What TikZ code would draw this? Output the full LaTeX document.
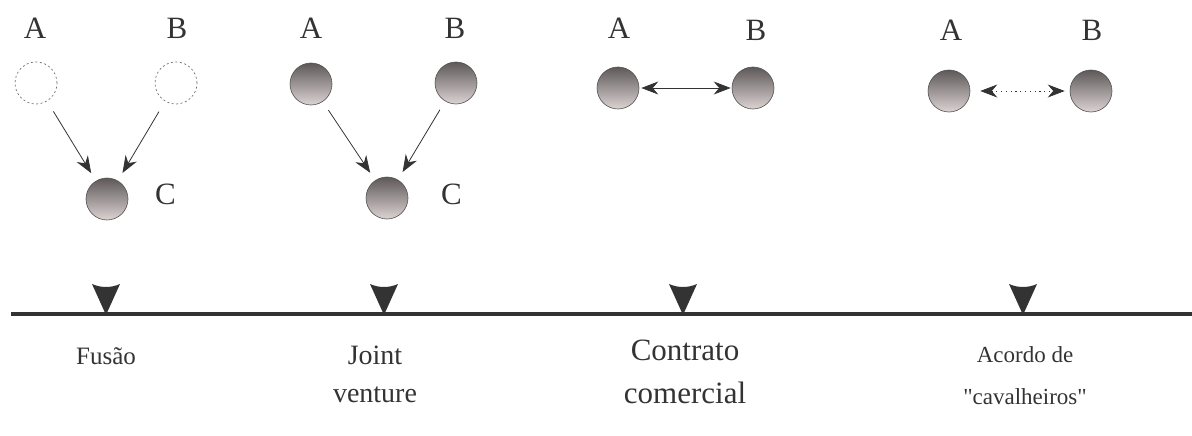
\documentclass[tikz,border=0pt]{standalone}
\usepackage{fontspec}
\setmainfont{Liberation Serif}
\usetikzlibrary{arrows.meta}
\definecolor{ink}{HTML}{333333}
\definecolor{balltop}{HTML}{5E5858}
\definecolor{ballmid}{HTML}{948C8C}
\definecolor{ballbot}{HTML}{DCD3D3}
\tikzset{
  ball/.style={circle, draw=ink!85, line width=0.6pt, minimum size=42pt, inner sep=0pt,
    top color=balltop, middle color=ballmid, bottom color=ballbot, shading angle=0},
  ghost/.style={circle, draw=ink!70, line width=0.7pt, dash pattern=on 2pt off 2.5pt, minimum size=42pt, inner sep=0pt},
  letter/.style={font=\fontsize{31}{33}\selectfont, text=ink, inner sep=0pt},
  caption/.style={align=center, text=ink, inner sep=0pt},
  link/.style={line width=0.8pt, draw=ink, -{Stealth[length=17pt,width=13pt]}},
  twoway/.style={line width=0.8pt, draw=ink, {Stealth[length=17pt,width=13pt]}-{Stealth[length=17pt,width=13pt]}},
  marker/.style={fill=ink, draw=none}
}
\begin{document}
\begin{tikzpicture}[x=1pt,y=-1pt]
\useasboundingbox (0,0) rectangle (1192,436);

% Fusion
\node[letter] (fa) at (35,28) {A};
\node[letter] (fb) at (177,28) {B};
\node[ghost] (fA) at (36,83) {};
\node[ghost] (fB) at (176,83) {};
\node[ball] (fC) at (107,199) {};
\node[letter, anchor=west] (fc) at (155,194) {C};
\draw[link, shorten <=12pt, shorten >=9pt] (fA) -- (fC);
\draw[link, shorten <=12pt, shorten >=9pt] (fB) -- (fC);

% Joint venture
\node[letter] (ja) at (311,28) {A};
\node[letter] (jb) at (455,28) {B};
\node[ball] (jA) at (311,84) {};
\node[ball] (jB) at (456,83) {};
\node[ball] (jC) at (387,198) {};
\node[letter, anchor=west] (jc) at (441,194) {C};
\draw[link, shorten <=10pt, shorten >=9pt] (jA) -- (jC);
\draw[link, shorten <=10pt, shorten >=9pt] (jB) -- (jC);

% Commercial contract
\node[letter] (ca) at (619,28) {A};
\node[letter] (cb) at (756,30) {B};
\node[ball] (cA) at (618,88) {};
\node[ball] (cB) at (753,88) {};
\draw[twoway, shorten <=2pt, shorten >=1pt] (cA) -- (cB);

% Gentlemen's agreement
\node[letter] (ga) at (951,30) {A};
\node[letter] (gb) at (1092,30) {B};
\node[ball] (gA) at (949,91) {};
\node[ball] (gB) at (1091,91) {};
\draw[twoway, dash pattern=on 1.2pt off 3.6pt, shorten <=10pt, shorten >=5pt] (gA) -- (gB);

% Time axis with markers
\coordinate (axL) at (11,314);
\coordinate (axR) at (1192,314);
\draw[ink, line width=4pt] (axL) -- (axR);
\foreach \x in {106,384,683,1023}{
  \fill[marker] (\x-14,284) .. controls (\x-5,288) and (\x+5,288) .. (\x+14,284) -- (\x,315) -- cycle;
}

% Captions
\node[caption, font=\fontsize{25}{28}\selectfont] (t1) at (106,356) {Fusão};
\node[caption, font=\fontsize{28}{38}\selectfont] (t2) at (375,374) {Joint\\venture};
\node[caption, font=\fontsize{31}{43}\selectfont] (t3) at (685,372) {Contrato\\comercial};
\node[caption, font=\fontsize{23}{42}\selectfont] (t4) at (1025,376) {Acordo de\\\textquotedbl cavalheiros\textquotedbl};
\end{tikzpicture}
\end{document}
